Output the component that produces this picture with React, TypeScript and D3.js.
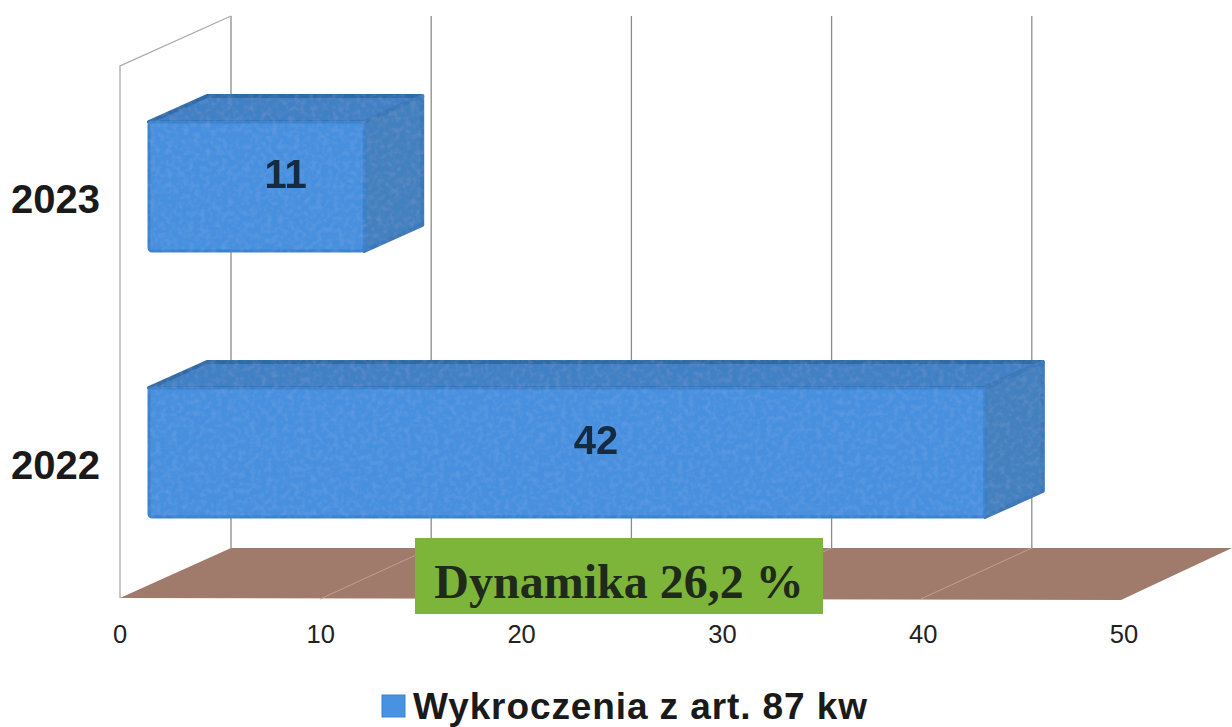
import React from "react";
import * as d3 from "d3";

const categories = ["2023", "2022"];
const values = [11, 42];
const ticks = [0, 10, 20, 30, 40, 50];
const seriesName = "Wykroczenia z art. 87 kw";
const note = "Dynamika 26,2 %";

const W = 1232, H = 727;
const font = "'Liberation Sans', Arial, sans-serif";

export default function App() {
  const x = d3.scaleLinear().domain([0, 50]).range([120, 1121]);
  const xLabel = d3.scaleLinear().domain([0, 50]).range([120, 1124]);
  const y = d3.scaleBand().domain(categories).range([66, 598]);
  const wall = { dx: 111, dy: -50 };
  const bar = { dx: 58, dy: -26, inset: 29, h: 129 };
  const line = d3.line();
  const y0 = y.range()[1], yTop = y.range()[0];

  const floor = line([
    [x(0), y0],
    [x(0) + wall.dx, y0 + wall.dy],
    [x(50) + wall.dx, y0 + wall.dy],
    [x(50), y0 + 2],
  ]) + "Z";

  return (
    <svg width={W} height={H} viewBox={`0 0 ${W} ${H}`}
      style={{ position: "absolute", left: 0, top: 0, background: "#fff" }}>
      <defs>
        <filter id="soft" x="-5%" y="-5%" width="110%" height="110%">
          <feGaussianBlur stdDeviation="0.6" />
        </filter>
        <filter id="grain" x="-3%" y="-5%" width="106%" height="110%">
          <feTurbulence type="fractalNoise" baseFrequency="0.18" numOctaves="2" seed="4" result="n" />
          <feColorMatrix in="n" type="matrix"
            values="0 0 0 0 1  0 0 0 0 1  0 0 0 0 1  1.2 0 0 0 -0.5" result="a" />
          <feComposite in="a" in2="SourceAlpha" operator="in" result="g" />
          <feComponentTransfer in="g" result="gg">
            <feFuncA type="linear" slope="0.1" />
          </feComponentTransfer>
          <feMerge>
            <feMergeNode in="SourceGraphic" />
            <feMergeNode in="gg" />
          </feMerge>
        </filter>
      </defs>
      <g filter="url(#soft)">
        {/* back wall gridlines */}
        {ticks.slice(0, 5).map((t) => (
          <line key={t} x1={x(t) + wall.dx} x2={x(t) + wall.dx}
            y1={yTop + wall.dy} y2={y0 + wall.dy}
            stroke="#8c8c8c" strokeWidth={1.3} />
        ))}
        {/* side wall */}
        <path d={line([
          [x(0), y0],
          [x(0), yTop],
          [x(0) + wall.dx, yTop + wall.dy],
        ])!} fill="none" stroke="#aaaaaa" strokeWidth={1.3} />
        {/* floor */}
        <path d={floor} fill="#a07a6a" />
        {ticks.slice(1, 5).map((t) => (
          <line key={t} x1={x(t)} y1={y0 + 1} x2={x(t) + wall.dx} y2={y0 + wall.dy}
            stroke="#c39f8e" strokeWidth={1} />
        ))}
        {/* bars */}
        {categories.map((c, i) => {
          const v = values[i];
          const cy = y(c)! + y.bandwidth() / 2 - 12.5;
          const top = cy - bar.h / 2, bottom = cy + bar.h / 2;
          const l = x(0) + bar.inset, r = x(v) + bar.inset - 5;
          const d = bar.dx, e = bar.dy;
          return (
            <g key={c} strokeLinejoin="round">
              <g filter="url(#grain)">
                <path d={line([[l, top], [r, top], [r + d, top + e], [l + d, top + e]])! + "Z"}
                  fill="#3f80c4" stroke="#2f6ba8" strokeWidth={4} />
                <path d={line([[r, top], [r + d, top + e], [r + d, bottom + e], [r, bottom]])! + "Z"}
                  fill="#4380bf" stroke="#3a78ba" strokeWidth={4} />
                <rect x={l} y={top} width={r - l} height={bar.h} fill="#4690df" stroke="#3b82ce" strokeWidth={3} rx={3} />
              </g>
              <text x={(l + r + d) / 2} y={(top + e + bottom) / 2} dy="0.35em" textAnchor="middle"
                fontFamily={font} fontWeight={700} fontSize={40} fill="#12293f">{v}</text>
            </g>
          );
        })}
      </g>
      {/* category labels */}
      {categories.map((c) => (
        <text key={c} x={100} y={y(c)! + y.bandwidth() / 2} dy="0.35em" textAnchor="end"
          fontFamily={font} fontWeight={700} fontSize={40} fill="#1a1a1a">{c}</text>
      ))}
      {/* value axis labels */}
      {ticks.map((t) => (
        <text key={t} x={xLabel(t)} y={643} textAnchor="middle"
          fontFamily={font} fontSize={25.5} fill="#222">{t}</text>
      ))}
      {/* note box */}
      <rect x={415} y={538} width={408} height={76} fill="#7db53a" />
      <text x={619} y={598} textAnchor="middle"
        fontFamily="'Liberation Serif', 'Times New Roman', serif" fontWeight={700} fontSize={48} fill="#1f2a1a">{note}</text>
      {/* legend */}
      <rect x={382} y={695} width={23} height={22} fill="#4892e2" stroke="#3b82ce" strokeWidth={1} />
      <text x={413} y={719} fontFamily={font} fontWeight={700} fontSize={37} letterSpacing={0.9} fill="#1a1a1a">{seriesName}</text>
    </svg>
  );
}
